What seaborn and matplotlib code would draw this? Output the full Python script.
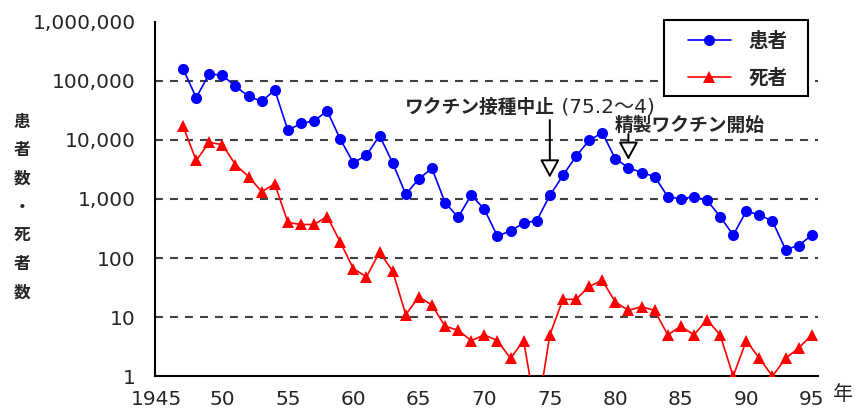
import numpy as np
import pandas as pd
import seaborn as sns
from matplotlib import pyplot as plt
from matplotlib.patches import Rectangle
from matplotlib.ticker import FixedLocator, NullFormatter, LogLocator

# the data (log scale)
years = list(range(1947, 1996))
cases = [160000, 52000, 132000, 124000, 81000, 55000, 45000, 70000, 14600, 19000,
         21000, 31000, 10300, 4100, 5500, 11800, 4100, 1200, 2200, 3300,
         870, 490, 1170, 670, 234, 290, 390, 430, 1150, 2500,
         5300, 9800, 13300, 4800, 3400, 2800, 2400, 1100, 1000, 1100,
         950, 505, 245, 620, 540, 420, 139, 163, 245]
deaths = [17000, 4500, 9100, 8300, 3800, 2400, 1330, 1800, 400, 370,
          370, 505, 187, 66, 48, 126, 60, 11, 22, 16,
          7, 6, 4, 5, 4, 2, 4, 0, 5, 20,
          20, 33, 42, 18, 13, 15, 13, 5, 7, 5,
          9, 5, 1, 4, 2, 1, 2, 3, 5]
series_names = ['患者', '死者']
ytick_vals = [1, 10, 100, 1000, 10000, 100000, 1000000]
ytick_labels = ['1', '10', '100', '1,000', '10,000', '100,000', '1,000,000']
xtick_vals = list(range(1945, 1996, 5))
xtick_labels = ['1945', '50', '55', '60', '65', '70', '75', '80', '85', '90', '95']
note_stop = 'ワクチン接種中止'
note_stop_when = ' (75.2〜4)'
note_new = '精製ワクチン開始'

df = pd.DataFrame({'year': years, 'cases': cases, 'deaths': deaths})
# zero deaths can't sit on a log axis: push it below the axis so the line dips out
df['deaths_plot'] = df['deaths'].replace(0, 0.2)

sns.set_style('white')
plt.rcParams['font.family'] = ['DejaVu Sans', 'Noto Sans CJK JP']

fig = plt.figure(figsize=(8.56, 4.12), dpi=100)
ax = fig.add_axes([0.181, 0.087, 0.775, 0.860])

ax.set_yscale('log')

for lv in ytick_vals[1:-1]:
    ax.axhline(lv, color='#404040', lw=1.5, ls=(0, (3.8, 3.4)), zorder=1)

sns.lineplot(data=df, x='year', y='cases', ax=ax, color='#0000ff', lw=1.2,
             marker='o', markersize=8, markeredgewidth=0, label=series_names[0], zorder=3)
sns.lineplot(data=df, x='year', y='deaths_plot', ax=ax, color='#ff0000', lw=1.2,
             marker='^', markersize=8, markeredgewidth=0, label=series_names[1], zorder=3)

ax.set_xlim(1944.85, 1995.5)
ax.set_ylim(1, 1000000)

ax.set_yticks(ytick_vals)
ax.set_yticklabels(ytick_labels)
ax.yaxis.set_minor_locator(LogLocator(base=10, subs=np.arange(2, 10)))
ax.yaxis.set_minor_formatter(NullFormatter())
ax.set_xticks(xtick_vals)
ax.set_xticklabels(xtick_labels)
ax.xaxis.set_minor_locator(FixedLocator(years + [1946]))

ax.tick_params(axis='y', which='major', direction='inout', length=16, width=1.4,
               labelsize=14.5, pad=6, color='black')
ax.tick_params(axis='y', which='minor', direction='inout', length=5, width=1.0, color='black')
ax.tick_params(axis='x', which='major', direction='out', length=9, width=1.4,
               labelsize=14.5, pad=1, color='black')
ax.tick_params(axis='x', which='minor', direction='out', length=6, width=1.2, color='black')

for s in ['top', 'right']:
    ax.spines[s].set_visible(False)
for s in ['left', 'bottom']:
    ax.spines[s].set_linewidth(1.5)
    ax.spines[s].set_color('black')

ax.set_xlabel('')
ax.set_ylabel('')

# vaccine notes
ax.text(1975.4, 35900, note_stop, ha='right', va='center', fontsize=13.5, fontweight='bold')
ax.text(1975.4, 35900, note_stop_when, ha='left', va='center', fontsize=14.5)
ax.text(1985.7, 17900, note_new, ha='center', va='center', fontsize=13.5, fontweight='bold')
arrow = dict(arrowstyle='-|>,head_length=0.55,head_width=0.3', fc='white', ec='black',
             lw=1.4, mutation_scale=20, shrinkA=0, shrinkB=0)
ax.annotate('', xy=(1975, 2300), xytext=(1975, 21700), arrowprops=arrow)
ax.annotate('', xy=(1981, 4600), xytext=(1981, 12600), arrowprops=arrow)

fig.text(0.985, 0.0415, '年', fontsize=14.5, ha='center', va='center')

# legend: square frame drawn by hand, entries placed inside it
ax.add_patch(Rectangle((664 / 856, 1 - 96 / 412), 144 / 856, 76 / 412,
                       transform=fig.transFigure, facecolor='white', edgecolor='black',
                       lw=1.5, clip_on=False, zorder=4))
leg = ax.legend(loc='center left', bbox_to_anchor=(688 / 856, 1 - 60 / 412),
                bbox_transform=fig.transFigure, fontsize=14, frameon=False,
                borderpad=0, labelspacing=0.9, handlelength=2.2, handletextpad=0.9,
                borderaxespad=0)
leg.set_zorder(5)
for t in leg.get_texts():
    t.set_fontweight('bold')

fig.text(0.026, 0.497, '患\n者\n数\n・\n死\n者\n数', ha='center', va='center',
         fontsize=12, fontweight='bold', linespacing=1.75)

plt.savefig('out.png', dpi=100)
